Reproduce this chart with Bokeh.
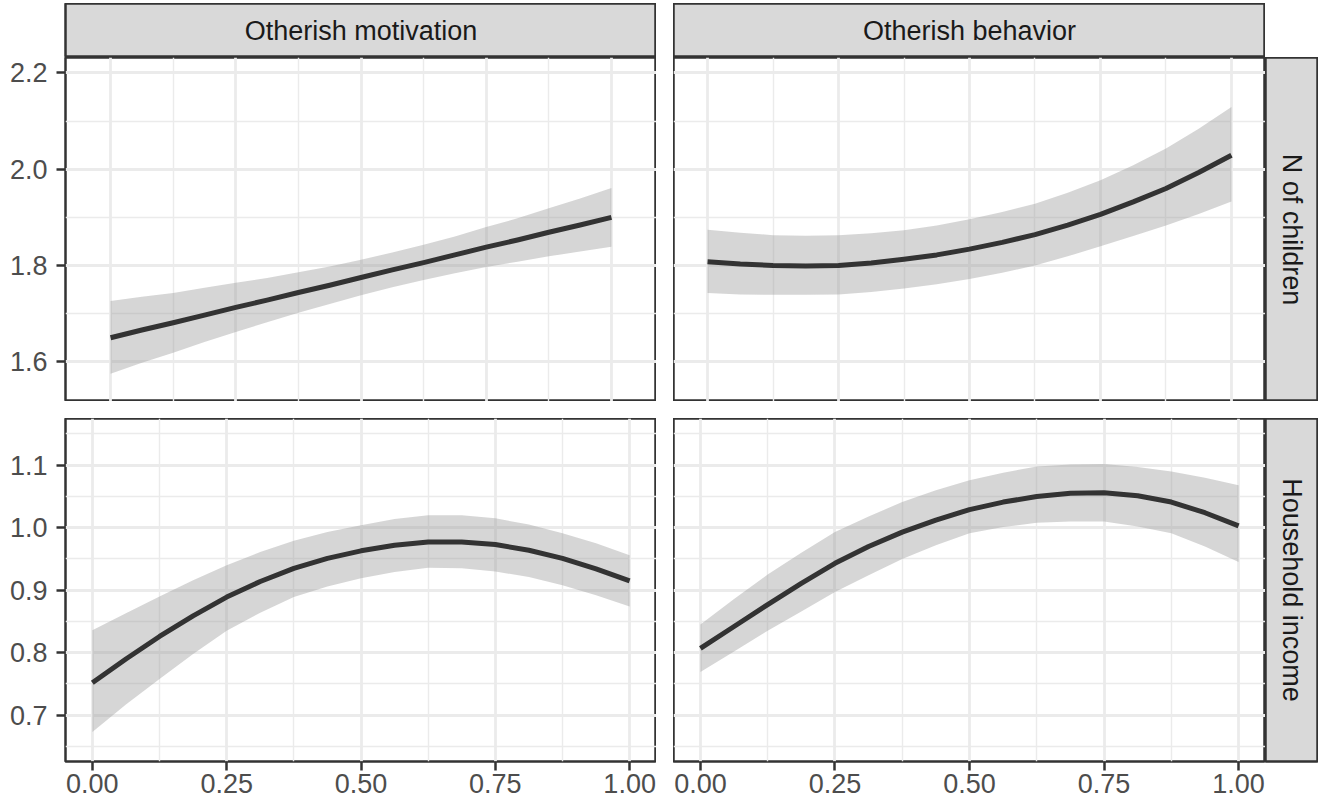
import math
from bokeh.plotting import figure
from bokeh.layouts import row, column
from bokeh.models import Range1d, FixedTicker, LinearAxis, Grid, Spacer
from bokeh.core.properties import value
from bokeh.embed import file_html
from bokeh.resources import INLINE

# ---------------- data ----------------
col_labels = ["Otherish motivation", "Otherish behavior"]
row_labels = ["N of children", "Household income"]

x_vals = [0.0, 0.0625, 0.125, 0.1875, 0.25, 0.3125, 0.375, 0.4375, 0.5,
          0.5625, 0.625, 0.6875, 0.75, 0.8125, 0.875, 0.9375, 1.0]

# N of children ~ Otherish motivation
motiv_children_fit = [1.650, 1.666, 1.681, 1.697, 1.713, 1.728, 1.744, 1.759, 1.775,
                      1.791, 1.806, 1.822, 1.838, 1.853, 1.869, 1.884, 1.900]
motiv_children_lo = [1.575, 1.598, 1.619, 1.641, 1.662, 1.682, 1.702, 1.720, 1.738,
                     1.755, 1.770, 1.784, 1.797, 1.808, 1.819, 1.829, 1.839]
motiv_children_hi = [1.726, 1.735, 1.743, 1.754, 1.764, 1.774, 1.786, 1.798, 1.812,
                     1.827, 1.843, 1.860, 1.880, 1.898, 1.919, 1.939, 1.961]

# N of children ~ Otherish behavior
behav_children_fit = [1.808, 1.803, 1.800, 1.799, 1.800, 1.805, 1.813, 1.822, 1.834,
                      1.848, 1.864, 1.884, 1.906, 1.932, 1.960, 1.993, 2.029]
behav_children_lo = [1.743, 1.740, 1.739, 1.739, 1.740, 1.745, 1.752, 1.761, 1.772,
                     1.785, 1.800, 1.819, 1.840, 1.861, 1.883, 1.907, 1.933]
behav_children_hi = [1.874, 1.868, 1.863, 1.862, 1.863, 1.867, 1.873, 1.883, 1.896,
                     1.911, 1.928, 1.951, 1.977, 2.008, 2.043, 2.084, 2.129]

# Household income ~ Otherish motivation
motiv_income_fit = [0.752, 0.790, 0.826, 0.859, 0.889, 0.914, 0.935, 0.951, 0.963,
                    0.972, 0.977, 0.977, 0.973, 0.964, 0.951, 0.934, 0.915]
motiv_income_lo = [0.673, 0.717, 0.758, 0.798, 0.835, 0.864, 0.889, 0.906, 0.919,
                   0.929, 0.936, 0.935, 0.930, 0.921, 0.908, 0.892, 0.874]
motiv_income_hi = [0.836, 0.863, 0.890, 0.916, 0.940, 0.961, 0.979, 0.993, 1.004,
                   1.014, 1.020, 1.020, 1.015, 1.005, 0.991, 0.975, 0.956]

# Household income ~ Otherish behavior
behav_income_fit = [0.807, 0.842, 0.877, 0.911, 0.943, 0.970, 0.993, 1.012, 1.029,
                    1.041, 1.050, 1.055, 1.056, 1.051, 1.041, 1.024, 1.003]
behav_income_lo = [0.769, 0.802, 0.835, 0.866, 0.897, 0.924, 0.950, 0.972, 0.991,
                   1.001, 1.008, 1.010, 1.010, 1.002, 0.991, 0.970, 0.945]
behav_income_hi = [0.845, 0.886, 0.925, 0.960, 0.993, 1.018, 1.041, 1.060, 1.076,
                   1.088, 1.098, 1.101, 1.102, 1.097, 1.090, 1.080, 1.068]

x_ticks = [0.0, 0.25, 0.5, 0.75, 1.0]
x_tick_labels = ["0.00", "0.25", "0.50", "0.75", "1.00"]
x_minor = [0.125, 0.375, 0.625, 0.875]

y_ticks_children = [1.6, 1.8, 2.0, 2.2]
y_labels_children = ["1.6", "1.8", "2.0", "2.2"]
y_minor_children = [1.7, 1.9, 2.1]

y_ticks_income = [0.7, 0.8, 0.9, 1.0, 1.1]
y_labels_income = ["0.7", "0.8", "0.9", "1.0", "1.1"]
y_minor_income = [0.65, 0.75, 0.85, 0.95, 1.05, 1.15]

# ---------------- style ----------------
FONT = "Liberation Sans"
DARK = "#333333"
GRID = "#EBEBEB"
STRIP = "#D9D9D9"


def strip_grids(p):
    p.center = [r for r in p.center if not isinstance(r, Grid)]


def make_panel(w, h, xr, yr, fit, lo, hi, yticks, yminor, ylabels,
               left_axis=False, bottom_axis=False, mb_left=0, mb_bottom=0):
    p = figure(width=w, height=h, x_range=Range1d(*xr), y_range=Range1d(*yr),
               x_axis_location=None, y_axis_location=None,
               toolbar_location=None, output_backend="svg",
               min_border=0, min_border_left=mb_left, min_border_bottom=mb_bottom,
               min_border_top=0, min_border_right=0)
    strip_grids(p)
    p.background_fill_color = "white"
    p.border_fill_color = "white"
    p.outline_line_color = DARK
    p.outline_line_width = 2.5
    xt = FixedTicker(ticks=x_ticks, minor_ticks=x_minor)
    yt = FixedTicker(ticks=yticks, minor_ticks=yminor)
    for dim, t in ((0, xt), (1, yt)):
        p.add_layout(Grid(dimension=dim, ticker=t, grid_line_color=GRID, grid_line_width=2.8,
                          minor_grid_line_color=GRID, minor_grid_line_width=1.4), "center")
    p.varea(x=x_vals, y1=lo, y2=hi, fill_color="#999999", fill_alpha=0.4)
    p.line(x=x_vals, y=fit, line_color=DARK, line_width=5, line_join="round")

    def style(ax):
        ax.axis_line_color = None
        ax.major_tick_line_color = DARK
        ax.major_tick_line_width = 2.5
        ax.major_tick_in = 0
        ax.major_tick_out = 9
        ax.minor_tick_line_color = None
        ax.major_label_text_font = FONT
        ax.major_label_text_font_size = "27px"
        ax.major_label_text_color = "#4D4D4D"

    if left_axis:
        ax = LinearAxis(ticker=FixedTicker(ticks=yticks),
                        major_label_overrides=dict(zip(yticks, ylabels)))
        style(ax)
        ax.major_label_standoff = 9
        p.add_layout(ax, "left")
    if bottom_axis:
        ax = LinearAxis(ticker=FixedTicker(ticks=x_ticks),
                        major_label_overrides=dict(zip(x_ticks, x_tick_labels)))
        style(ax)
        ax.major_label_standoff = 3
        p.add_layout(ax, "below")
    return p


def make_strip(w, h, label, angle, mb_left=0, mb_bottom=0):
    p = figure(width=w, height=h, x_range=Range1d(0, 1), y_range=Range1d(0, 1),
               x_axis_location=None, y_axis_location=None,
               toolbar_location=None, output_backend="svg",
               min_border=0, min_border_left=mb_left, min_border_bottom=mb_bottom,
               min_border_top=0, min_border_right=0)
    strip_grids(p)
    p.background_fill_color = STRIP
    p.border_fill_color = "white"
    p.outline_line_color = DARK
    p.outline_line_width = 2.5
    p.text(x=[0.5], y=[0.5], text=[label], angle=angle,
           text_align="center", text_baseline="middle",
           text_font=value(FONT), text_font_size="27px", text_color="#1A1A1A")
    return p


TOP_PAD = 3
LEFT = 65
PW = 591
PW2 = 592
TOP_H = 344
BOT_FRAME = 343
AXIS_B = 45
STRIP_H = 54
STRIP_W = 53
GAP = 17

yr_top = (1.5175, 2.232)
yr_bot = (0.626, 1.1747)

pTL = make_panel(LEFT + PW, TOP_H, (-0.09, 1.09), yr_top,
                 motiv_children_fit, motiv_children_lo, motiv_children_hi,
                 y_ticks_children, y_minor_children, y_labels_children,
                 left_axis=True, mb_left=LEFT)
pTR = make_panel(PW2, TOP_H, (-0.065, 1.065), yr_top,
                 behav_children_fit, behav_children_lo, behav_children_hi,
                 y_ticks_children, y_minor_children, y_labels_children)
pBL = make_panel(LEFT + PW, BOT_FRAME + AXIS_B, (-0.05, 1.05), yr_bot,
                 motiv_income_fit, motiv_income_lo, motiv_income_hi,
                 y_ticks_income, y_minor_income, y_labels_income,
                 left_axis=True, bottom_axis=True, mb_left=LEFT, mb_bottom=AXIS_B)
pBR = make_panel(PW2, BOT_FRAME + AXIS_B, (-0.05, 1.05), yr_bot,
                 behav_income_fit, behav_income_lo, behav_income_hi,
                 y_ticks_income, y_minor_income, y_labels_income,
                 bottom_axis=True, mb_bottom=AXIS_B)

sTopL = make_strip(LEFT + PW, STRIP_H, col_labels[0], 0, mb_left=LEFT)
sTopR = make_strip(PW2, STRIP_H, col_labels[1], 0)
sRightT = make_strip(STRIP_W, TOP_H, row_labels[0], -math.pi / 2)
sRightB = make_strip(STRIP_W, BOT_FRAME + AXIS_B, row_labels[1], -math.pi / 2, mb_bottom=AXIS_B)

layout = column(
    Spacer(width=10, height=TOP_PAD),
    row(sTopL, Spacer(width=GAP, height=STRIP_H), sTopR),
    row(pTL, Spacer(width=GAP, height=TOP_H), pTR, sRightT),
    Spacer(width=10, height=GAP),
    row(pBL, Spacer(width=GAP, height=BOT_FRAME + AXIS_B), pBR, sRightB),
)

open("out.html", "w").write(file_html(layout, INLINE))
